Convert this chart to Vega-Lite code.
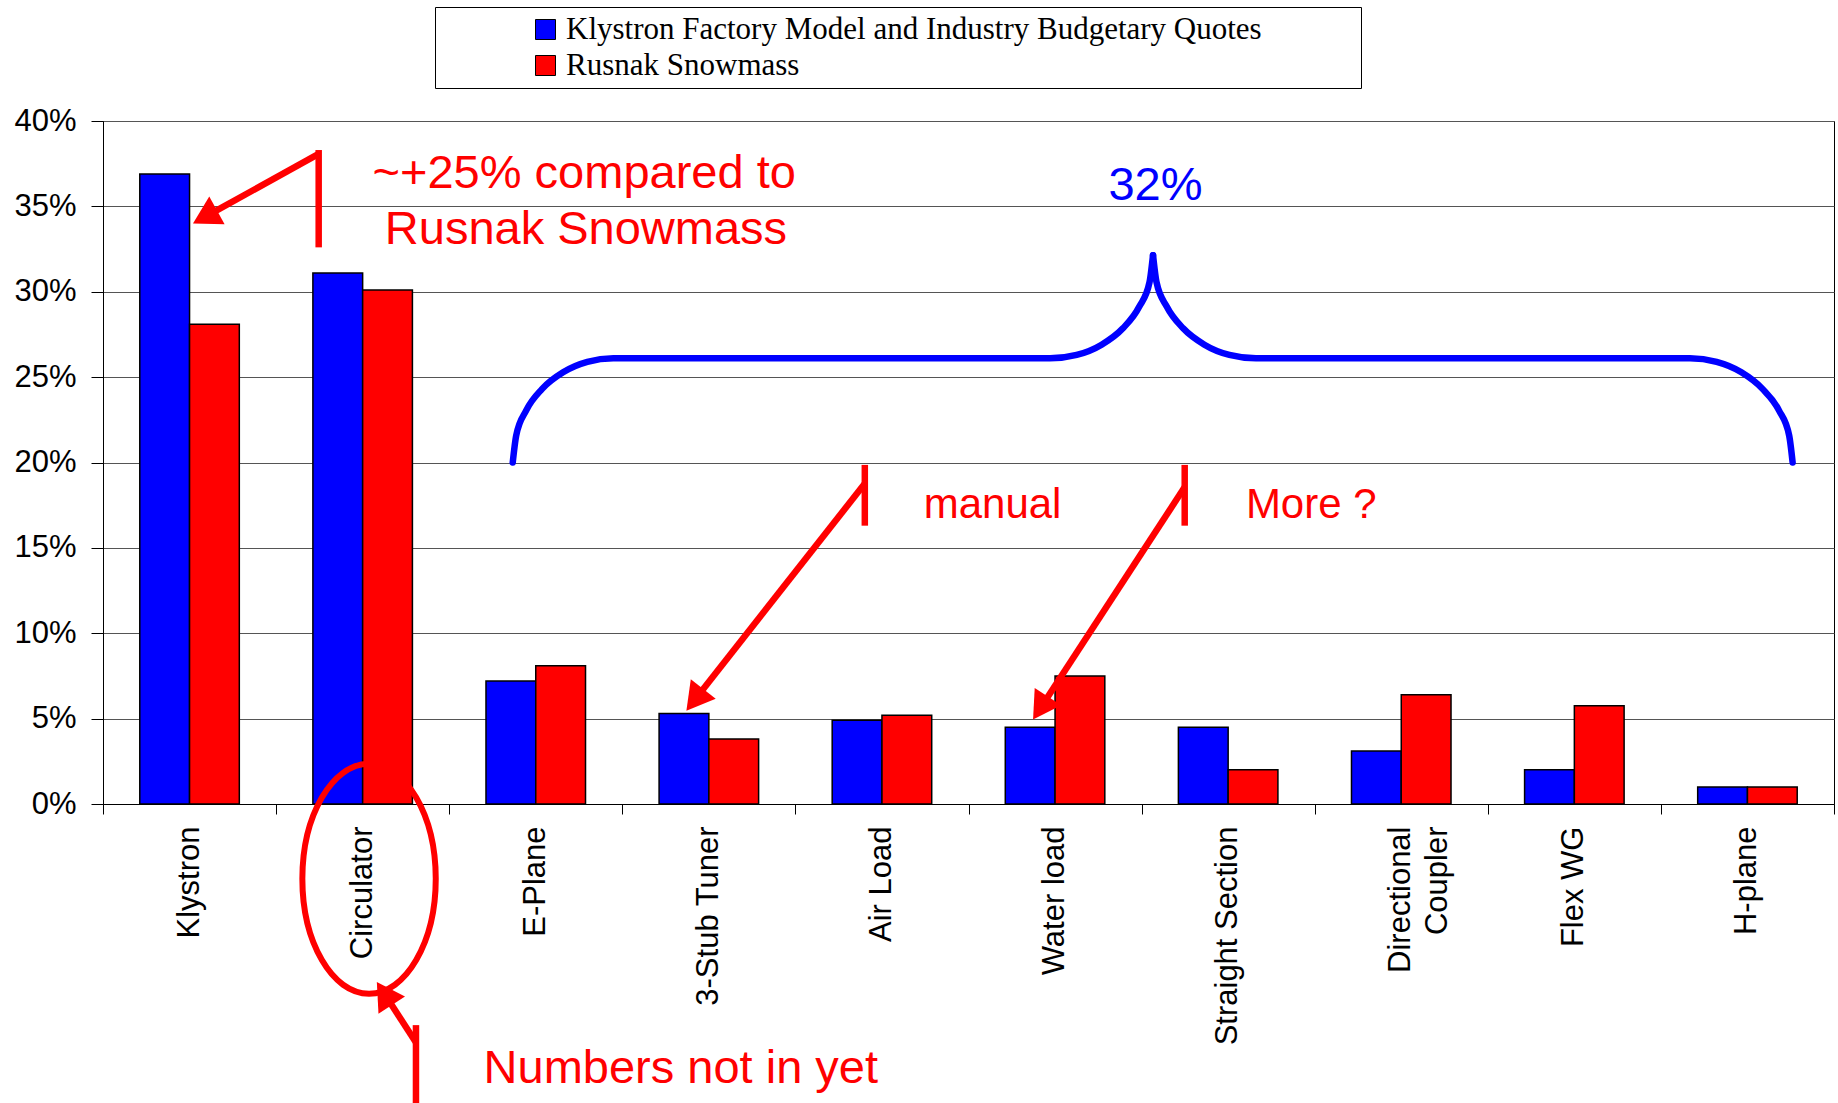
{
  "$schema": "https://vega.github.io/schema/vega-lite/v6.json",
  "width": 1731,
  "height": 683,
  "autosize": {"type": "none"},
  "padding": {"left": 103, "top": 121, "right": 4, "bottom": 299},
  "background": "white",
  "config": {
    "view": {"stroke": "#000", "strokeWidth": 1},
    "font": "Liberation Sans",
    "axis": {"labelFont": "Liberation Sans", "labelColor": "#000"}
  },
  "datasets": {
    "bars": [
      {"part": "Klystron", "series": "Klystron Factory Model and Industry Budgetary Quotes", "value": 0.369},
      {"part": "Klystron", "series": "Rusnak Snowmass", "value": 0.281},
      {"part": "Circulator", "series": "Klystron Factory Model and Industry Budgetary Quotes", "value": 0.311},
      {"part": "Circulator", "series": "Rusnak Snowmass", "value": 0.301},
      {"part": "E-Plane", "series": "Klystron Factory Model and Industry Budgetary Quotes", "value": 0.072},
      {"part": "E-Plane", "series": "Rusnak Snowmass", "value": 0.081},
      {"part": "3-Stub Tuner", "series": "Klystron Factory Model and Industry Budgetary Quotes", "value": 0.053},
      {"part": "3-Stub Tuner", "series": "Rusnak Snowmass", "value": 0.038},
      {"part": "Air Load", "series": "Klystron Factory Model and Industry Budgetary Quotes", "value": 0.049},
      {"part": "Air Load", "series": "Rusnak Snowmass", "value": 0.052},
      {"part": "Water load", "series": "Klystron Factory Model and Industry Budgetary Quotes", "value": 0.045},
      {"part": "Water load", "series": "Rusnak Snowmass", "value": 0.075},
      {"part": "Straight Section", "series": "Klystron Factory Model and Industry Budgetary Quotes", "value": 0.045},
      {"part": "Straight Section", "series": "Rusnak Snowmass", "value": 0.020},
      {"part": "Directional Coupler", "series": "Klystron Factory Model and Industry Budgetary Quotes", "value": 0.031},
      {"part": "Directional Coupler", "series": "Rusnak Snowmass", "value": 0.064},
      {"part": "Flex WG", "series": "Klystron Factory Model and Industry Budgetary Quotes", "value": 0.020},
      {"part": "Flex WG", "series": "Rusnak Snowmass", "value": 0.0575},
      {"part": "H-plane", "series": "Klystron Factory Model and Industry Budgetary Quotes", "value": 0.010},
      {"part": "H-plane", "series": "Rusnak Snowmass", "value": 0.010}
    ],
    "ticks": [
      {"x": 0, "y": 0}, {"x": 1, "y": 0}, {"x": 2, "y": 0}, {"x": 3, "y": 0}, {"x": 4, "y": 0},
      {"x": 5, "y": 0}, {"x": 6, "y": 0}, {"x": 7, "y": 0}, {"x": 8, "y": 0}, {"x": 9, "y": 0}, {"x": 10, "y": 0}
    ],
    "segments": [
      {"id": "a", "x": 1.246, "y": 0.383, "x2": 1.246, "y2": 0.326},
      {"id": "b", "x": 1.246, "y": 0.3808, "x2": 0.589, "y2": 0.3438},
      {"id": "c", "x": 4.401, "y": 0.1986, "x2": 4.401, "y2": 0.163},
      {"id": "d", "x": 4.401, "y": 0.1877, "x2": 3.419, "y2": 0.061},
      {"id": "e", "x": 6.249, "y": 0.1986, "x2": 6.249, "y2": 0.163},
      {"id": "f", "x": 6.249, "y": 0.1856, "x2": 5.416, "y2": 0.0562},
      {"id": "g", "x": 1.808, "y": -0.1295, "x2": 1.808, "y2": -0.18},
      {"id": "h", "x": 1.808, "y": -0.1397, "x2": 1.625, "y2": -0.111}
    ],
    "heads": [
      {"id": "b", "x": 0.589, "y": 0.3438},
      {"id": "d", "x": 3.419, "y": 0.061},
      {"id": "f", "x": 5.416, "y": 0.0562},
      {"id": "h", "x": 1.625, "y": -0.111}
    ],
    "brace": [
      {"half": "L", "o": 1, "x": 2.367, "y": 0.200},
      {"half": "L", "o": 2, "x": 2.387, "y": 0.2158},
      {"half": "L", "o": 3, "x": 2.445, "y": 0.2305},
      {"half": "L", "o": 4, "x": 2.537, "y": 0.2431},
      {"half": "L", "o": 5, "x": 2.658, "y": 0.2528},
      {"half": "L", "o": 6, "x": 2.798, "y": 0.2589},
      {"half": "L", "o": 7, "x": 2.948, "y": 0.2610},
      {"half": "L", "o": 8, "x": 5.471, "y": 0.2610},
      {"half": "L", "o": 9, "x": 5.625, "y": 0.2630},
      {"half": "L", "o": 10, "x": 5.769, "y": 0.2690},
      {"half": "L", "o": 11, "x": 5.892, "y": 0.2786},
      {"half": "L", "o": 12, "x": 5.986, "y": 0.2912},
      {"half": "L", "o": 13, "x": 6.046, "y": 0.3057},
      {"half": "L", "o": 14, "x": 6.066, "y": 0.3214},
      {"half": "R", "o": 1, "x": 6.066, "y": 0.3214},
      {"half": "R", "o": 2, "x": 6.086, "y": 0.3057},
      {"half": "R", "o": 3, "x": 6.146, "y": 0.2912},
      {"half": "R", "o": 4, "x": 6.240, "y": 0.2786},
      {"half": "R", "o": 5, "x": 6.363, "y": 0.2690},
      {"half": "R", "o": 6, "x": 6.507, "y": 0.2630},
      {"half": "R", "o": 7, "x": 6.661, "y": 0.2610},
      {"half": "R", "o": 8, "x": 9.168, "y": 0.2610},
      {"half": "R", "o": 9, "x": 9.322, "y": 0.2589},
      {"half": "R", "o": 10, "x": 9.465, "y": 0.2528},
      {"half": "R", "o": 11, "x": 9.587, "y": 0.2431},
      {"half": "R", "o": 12, "x": 9.682, "y": 0.2305},
      {"half": "R", "o": 13, "x": 9.741, "y": 0.2158},
      {"half": "R", "o": 14, "x": 9.761, "y": 0.200}
    ],
    "ellipse": [{"x": 1.537, "y": -0.0438}],
    "bigred": [
      {"x": 2.78, "y": 0.369, "label": "~+25% compared to"},
      {"x": 2.79, "y": 0.336, "label": "Rusnak Snowmass"},
      {"x": 3.338, "y": -0.155, "label": "Numbers not in yet"}
    ],
    "smallred": [
      {"x": 5.139, "y": 0.175, "label": "manual"},
      {"x": 6.98, "y": 0.175, "label": "More ?"}
    ],
    "bluetext": [{"x": 6.08, "y": 0.362, "label": "32%"}]
  },
  "layer": [
    {
      "data": {"name": "bars"},
      "mark": {"type": "bar", "stroke": "#000", "strokeWidth": 1.5},
      "encoding": {
        "x": {
          "field": "part",
          "type": "nominal",
          "sort": ["Klystron", "Circulator", "E-Plane", "3-Stub Tuner", "Air Load", "Water load", "Straight Section", "Directional Coupler", "Flex WG", "H-plane"],
          "scale": {"paddingInner": 0.425, "paddingOuter": 0.2125},
          "axis": {
            "title": null,
            "labelAngle": 270,
            "ticks": false,
            "grid": false,
            "domain": true,
            "domainColor": "#000",
            "labelFontSize": 31,
            "labelPadding": 22,
            "labelLimit": 0,
            "labelLineHeight": 37,
            "labelExpr": "datum.label == 'Directional Coupler' ? ['Directional', 'Coupler'] : datum.label"
          }
        },
        "xOffset": {
          "field": "series",
          "type": "nominal",
          "sort": ["Klystron Factory Model and Industry Budgetary Quotes", "Rusnak Snowmass"]
        },
        "y": {
          "field": "value",
          "type": "quantitative",
          "scale": {"domain": [0, 0.4], "nice": false},
          "axis": {
            "title": null,
            "format": ".0%",
            "values": [0, 0.05, 0.1, 0.15, 0.2, 0.25, 0.3, 0.35, 0.4],
            "grid": true,
            "gridColor": "#555",
            "gridWidth": 1,
            "domainColor": "#000",
            "tickColor": "#000",
            "tickSize": 12,
            "labelPadding": 15,
            "labelFontSize": 31
          }
        },
        "color": {
          "field": "series",
          "type": "nominal",
          "scale": {
            "domain": ["Klystron Factory Model and Industry Budgetary Quotes", "Rusnak Snowmass"],
            "range": ["#0000FF", "#FF0000"]
          },
          "legend": {
            "title": null,
            "orient": "none",
            "legendX": 332,
            "legendY": -114,
            "direction": "vertical",
            "strokeColor": "#000",
            "fillColor": "#fff",
            "padding": 7,
            "cornerRadius": 0,
            "symbolType": "square",
            "symbolSize": 400,
            "symbolStrokeColor": "#000",
            "symbolStrokeWidth": 1,
            "symbolOffset": 88,
            "labelOffset": 5,
            "labelFont": "Liberation Serif",
            "labelFontSize": 31,
            "labelColor": "#000",
            "labelLimit": 0,
            "rowPadding": 4,
            "labelExpr": "datum.label == 'Rusnak Snowmass' ? datum.label : datum.label + '\u2800\u2800\u2800\u2800'"
          }
        }
      }
    },
    {
      "encoding": {
        "x": {
          "field": "x",
          "type": "quantitative",
          "scale": {"domain": [0, 10], "nice": false, "zero": false},
          "axis": {
            "title": null,
            "orient": "bottom",
            "values": [0, 1, 2, 3, 4, 5, 6, 7, 8, 9, 10],
            "labels": false,
            "domain": false,
            "grid": false,
            "ticks": true,
            "tickSize": 10,
            "tickColor": "#000"
          }
        },
        "y": {
          "field": "y",
          "type": "quantitative",
          "scale": {"domain": [0, 0.4], "nice": false},
          "axis": {
            "title": null,
            "format": ".0%",
            "values": [0, 0.05, 0.1, 0.15, 0.2, 0.25, 0.3, 0.35, 0.4],
            "grid": true,
            "gridColor": "#555",
            "gridWidth": 1,
            "domainColor": "#000",
            "tickColor": "#000",
            "tickSize": 12,
            "labelPadding": 15,
            "labelFontSize": 31
          }
        }
      },
      "layer": [
        {
          "data": {"name": "ticks"},
          "mark": {"type": "point", "opacity": 0}
        },
        {
          "data": {"name": "brace"},
          "mark": {"type": "line", "color": "#0000FF", "strokeWidth": 6.5, "interpolate": "monotone", "strokeCap": "round"},
          "encoding": {"detail": {"field": "half"}, "order": {"field": "o"}}
        },
        {
          "data": {"name": "segments"},
          "mark": {"type": "rule", "color": "#FF0000", "strokeWidth": 6.5},
          "encoding": {"x2": {"field": "x2"}, "y2": {"field": "y2"}}
        },
        {
          "data": {"name": "heads"},
          "transform": [{"filter": "datum.id == 'b'"}],
          "mark": {"type": "point", "shape": "triangle-up", "filled": true, "color": "#FF0000", "opacity": 1, "size": 1000, "angle": 241}
        },
        {
          "data": {"name": "heads"},
          "transform": [{"filter": "datum.id == 'd'"}],
          "mark": {"type": "point", "shape": "triangle-up", "filled": true, "color": "#FF0000", "opacity": 1, "size": 1000, "angle": 218}
        },
        {
          "data": {"name": "heads"},
          "transform": [{"filter": "datum.id == 'f'"}],
          "mark": {"type": "point", "shape": "triangle-up", "filled": true, "color": "#FF0000", "opacity": 1, "size": 1000, "angle": 213}
        },
        {
          "data": {"name": "heads"},
          "transform": [{"filter": "datum.id == 'h'"}],
          "mark": {"type": "point", "shape": "triangle-up", "filled": true, "color": "#FF0000", "opacity": 1, "size": 1000, "angle": 327}
        },
        {
          "data": {"name": "ellipse"},
          "mark": {
            "type": "point",
            "shape": "M0,-1C0.32,-1,0.58,-0.552,0.58,0C0.58,0.552,0.32,1,0,1C-0.32,1,-0.58,0.552,-0.58,0C-0.58,-0.552,-0.32,-1,0,-1Z",
            "filled": false,
            "stroke": "#FF0000",
            "strokeWidth": 6,
            "opacity": 1,
            "size": 52900
          }
        },
        {
          "data": {"name": "bigred"},
          "mark": {"type": "text", "color": "#FF0000", "fontSize": 47, "font": "Liberation Sans", "align": "center", "baseline": "middle"},
          "encoding": {"text": {"field": "label"}}
        },
        {
          "data": {"name": "smallred"},
          "mark": {"type": "text", "color": "#FF0000", "fontSize": 42, "font": "Liberation Sans", "align": "center", "baseline": "middle"},
          "encoding": {"text": {"field": "label"}}
        },
        {
          "data": {"name": "bluetext"},
          "mark": {"type": "text", "color": "#0000FF", "fontSize": 47, "font": "Liberation Sans", "align": "center", "baseline": "middle"},
          "encoding": {"text": {"field": "label"}}
        }
      ]
    }
  ],
  "resolve": {"scale": {"x": "independent"}, "axis": {"x": "independent"}}
}
